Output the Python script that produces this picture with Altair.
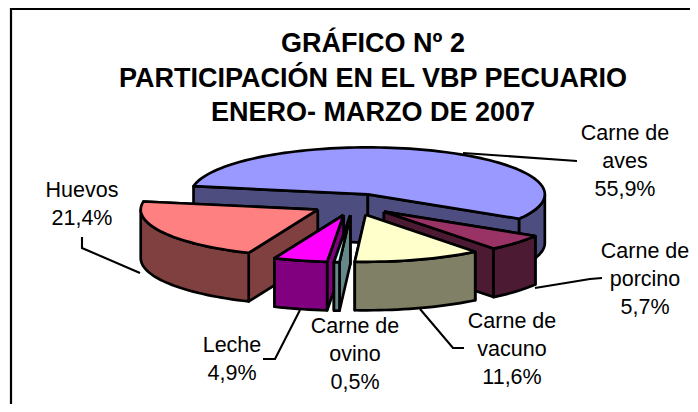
import math
import altair as alt
import pandas as pd

# ---- data ----
categories = ["Carne de aves", "Carne de porcino", "Carne de vacuno", "Carne de ovino", "Leche", "Huevos"]
shares = [55.9, 5.7, 11.6, 0.5, 4.9, 21.4]
top_colors = ["#9999FF", "#993366", "#FFFFCC", "#CCFFFF", "#FF00FF", "#FF8080"]
side_colors = ["#4D4D80", "#4D1A33", "#808066", "#668888", "#800080", "#804040"]
draw_order = [0, 1, 5, 4, 3, 2]

title_lines = ["GRÁFICO Nº 2", "PARTICIPACIÓN EN EL VBP PECUARIO", "ENERO- MARZO DE 2007"]
title_x = [373, 373, 373]
title_y = [52, 87, 121]

label_lines = [
    ["Carne de", "aves", "55,9%"],
    ["Carne de", "porcino", "5,7%"],
    ["Carne de", "vacuno", "11,6%"],
    ["Carne de", "ovino", "0,5%"],
    ["Leche", "4,9%"],
    ["Huevos", "21,4%"],
]
label_x = [625, 645, 512, 355, 232, 82]
label_y0 = [140, 258, 328, 333, 352, 197]

leaders = [
    [(577, 161), (463, 153)],
    [(602, 278), (590, 279), (535, 288)],
    [(464, 348), (453, 348), (420, 309)],
    [(263, 359), (275, 359), (300, 310)],
    [(82, 237), (82, 248), (140, 273)],
]
frame = [(11, 412), (11, 9), (698, 9)]

# ---- pie layout (projection of a tilted exploded pie) ----
CX, CY, RX, RY, DEPTH, EXPLODE = 353.5, 204.5, 177, 47, 48.5, 0.23
START = 280.0
W, H = 682, 396


def ell(angle, ox, oy, dy=0.0):
    t = math.radians(angle)
    return (ox + RX * math.sin(t), oy - RY * math.cos(t) + dy)


wedges = []
acc = START
for v in shares:
    span = v * 3.6
    wedges.append((acc, acc + span))
    acc += span

rows = []
pid = 0


def add_poly(points, fill):
    global pid
    closed = list(points) + [points[0]]
    for s, (px, py) in enumerate(closed):
        rows.append({"poly": pid, "seq": s, "px": px, "py": py, "fill": fill})
    pid += 1


for i in draw_order:
    a0, a1 = wedges[i]
    mid = (a0 + a1) / 2
    t = math.radians(mid)
    ox = CX + EXPLODE * RX * math.sin(t)
    oy = CY - EXPLODE * RY * math.cos(t)
    # radial side faces, back one first
    ends = sorted([a0, a1], key=lambda a: ell(a, ox, oy)[1])
    for e in ends:
        p = ell(e, ox, oy)
        add_poly([(ox, oy), p, (p[0], p[1] + DEPTH), (ox, oy + DEPTH)], side_colors[i])
    # visible part of the rim
    for k in (0, 1):
        lo, hi = max(a0, 90 + 360 * k), min(a1, 270 + 360 * k)
        if hi > lo:
            n = max(2, int((hi - lo) / 2) + 2)
            angs = [lo + (hi - lo) * j / (n - 1) for j in range(n)]
            up = [ell(a, ox, oy) for a in angs]
            dn = [ell(a, ox, oy, DEPTH) for a in reversed(angs)]
            add_poly(up + dn, side_colors[i])
    # top face
    n = max(2, int((a1 - a0) / 2) + 2)
    arc = [ell(a0 + (a1 - a0) * j / (n - 1), ox, oy) for j in range(n)]
    add_poly([(ox, oy)] + arc, top_colors[i])

poly_df = pd.DataFrame(rows)

leader_rows = []
for li, pts in enumerate(leaders):
    for s, (px, py) in enumerate(pts):
        leader_rows.append({"leader": li, "seq": s, "px": px, "py": py})
leader_df = pd.DataFrame(leader_rows)

frame_df = pd.DataFrame([{"seq": s, "px": p[0], "py": p[1]} for s, p in enumerate(frame)])

text_rows = []
for lines, lx, ly in zip(label_lines, label_x, label_y0):
    for j, line in enumerate(lines):
        text_rows.append({"t": f"{line}", "key": f"{lx}-{j}", "px": lx, "py": ly + 28 * j})
text_df = pd.DataFrame(text_rows)
title_df = pd.DataFrame({"t": title_lines, "px": title_x, "py": title_y})

xs = alt.Scale(domain=[8, 8 + W], range=[0, W])
ys = alt.Scale(domain=[8 + H, 8], range=[H, 0])
X = alt.X("px:Q", scale=xs, axis=None)
Y = alt.Y("py:Q", scale=ys, axis=None)

frame_layer = alt.Chart(frame_df).mark_line(color="black", strokeWidth=2.2, strokeJoin="miter", clip=True).encode(
    x=X, y=Y, order="seq:Q"
)
pie_layer = alt.Chart(poly_df).mark_line(stroke="black", strokeWidth=2.7, strokeJoin="round").encode(
    x=X, y=Y, order="seq:Q", detail="poly:N", fill=alt.Fill("fill:N", scale=None)
)
leader_layer = alt.Chart(leader_df).mark_line(color="black", strokeWidth=2.1, strokeJoin="miter").encode(
    x=X, y=Y, order="seq:Q", detail="leader:N"
)
label_layer = alt.Chart(text_df).mark_text(
    font="Liberation Sans", fontSize=21.5, color="black", align="center", baseline="alphabetic"
).encode(x=X, y=Y, text="t:N")
title_layer = alt.Chart(title_df).mark_text(
    font="Liberation Sans", fontSize=27, fontWeight="bold", color="black", align="center", baseline="alphabetic"
).encode(x=X, y=Y, text="t:N")

chart = (
    alt.layer(frame_layer, pie_layer, leader_layer, label_layer, title_layer)
    .properties(
        width=W,
        height=H,
        padding=0,
        autosize=alt.AutoSizeParams(type="none"),
        background="white",
    )
    .configure_view(stroke=None)
)
chart.save("out.html", embed_options={"renderer": "svg", "actions": False})
